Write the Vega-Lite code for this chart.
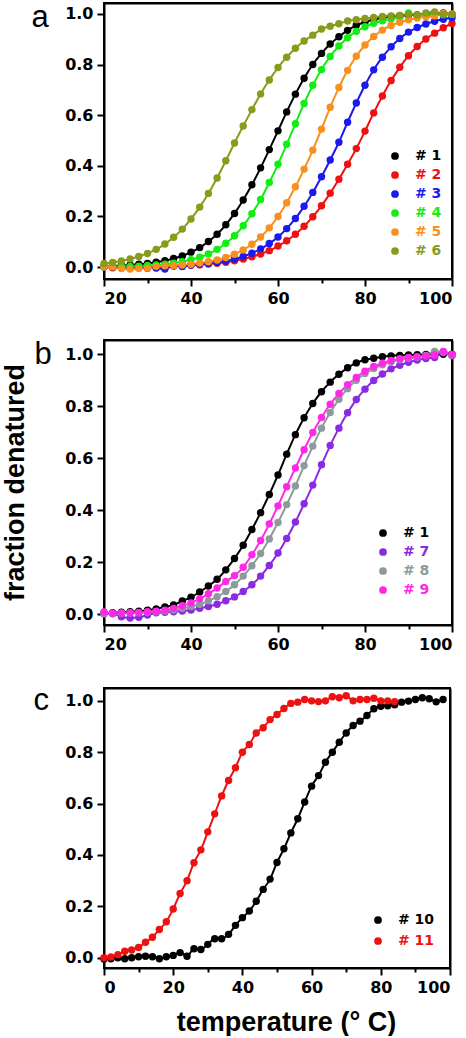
{
"$schema": "https://vega.github.io/schema/vega-lite/v6.json",
"padding": {"left": 0, "top": 0, "right": 0, "bottom": 0},
"spacing": 30,
"background": "white",
"config": {
  "view": {"stroke": "black", "strokeWidth": 2},
  "axis": {"labelFont": "DejaVu Sans", "labelFontSize": 16, "labelFontWeight": "bold", "labelColor": "black", "tickColor": "black", "tickWidth": 2, "tickSize": 7, "domain": true, "domainColor": "black", "domainWidth": 2, "grid": false, "labelPadding": 4, "titleFont": "Liberation Sans", "titleFontSize": 27, "titleFontWeight": "bold", "titleColor": "black"},
  "legend": {"orient": "none", "title": null, "labelFont": "DejaVu Sans", "labelFontSize": 14, "labelFontWeight": "bold", "symbolType": "circle", "symbolSize": 60, "symbolStrokeWidth": 0, "labelOffset": 13, "rowPadding": 5, "padding": 0}
},
"datasets": {
"a": [
{"s":"# 1","T":20,"v":0.003},{"s":"# 1","T":22,"v":0.004},{"s":"# 1","T":24,"v":0.006},{"s":"# 1","T":26,"v":0.008},{"s":"# 1","T":28,"v":0.011},{"s":"# 1","T":30,"v":0.014},{"s":"# 1","T":32,"v":0.019},{"s":"# 1","T":34,"v":0.025},{"s":"# 1","T":36,"v":0.034},{"s":"# 1","T":38,"v":0.044},{"s":"# 1","T":40,"v":0.059},{"s":"# 1","T":42,"v":0.077},{"s":"# 1","T":44,"v":0.101},{"s":"# 1","T":46,"v":0.13},{"s":"# 1","T":48,"v":0.167},{"s":"# 1","T":50,"v":0.212},{"s":"# 1","T":52,"v":0.265},{"s":"# 1","T":54,"v":0.325},{"s":"# 1","T":56,"v":0.392},{"s":"# 1","T":58,"v":0.464},{"s":"# 1","T":60,"v":0.538},{"s":"# 1","T":62,"v":0.613},{"s":"# 1","T":64,"v":0.683},{"s":"# 1","T":66,"v":0.746},{"s":"# 1","T":68,"v":0.8},{"s":"# 1","T":70,"v":0.844},{"s":"# 1","T":72,"v":0.881},{"s":"# 1","T":74,"v":0.91},{"s":"# 1","T":76,"v":0.935},{"s":"# 1","T":78,"v":0.955},{"s":"# 1","T":80,"v":0.968},{"s":"# 1","T":82,"v":0.978},{"s":"# 1","T":84,"v":0.985},{"s":"# 1","T":86,"v":0.99},{"s":"# 1","T":88,"v":0.993},{"s":"# 1","T":90,"v":0.995},{"s":"# 1","T":92,"v":0.996},{"s":"# 1","T":94,"v":0.997},{"s":"# 1","T":96,"v":0.998},{"s":"# 1","T":98,"v":1.004},{"s":"# 1","T":100,"v":0.999},
{"s":"# 2","T":20,"v":0.001},{"s":"# 2","T":22,"v":-0.003},{"s":"# 2","T":24,"v":0.001},{"s":"# 2","T":26,"v":-0.004},{"s":"# 2","T":28,"v":0.002},{"s":"# 2","T":30,"v":-0.005},{"s":"# 2","T":32,"v":0.003},{"s":"# 2","T":34,"v":-0.002},{"s":"# 2","T":36,"v":0.004},{"s":"# 2","T":38,"v":0.002},{"s":"# 2","T":40,"v":0.007},{"s":"# 2","T":42,"v":0.009},{"s":"# 2","T":44,"v":0.012},{"s":"# 2","T":46,"v":0.015},{"s":"# 2","T":48,"v":0.019},{"s":"# 2","T":50,"v":0.025},{"s":"# 2","T":52,"v":0.032},{"s":"# 2","T":54,"v":0.041},{"s":"# 2","T":56,"v":0.052},{"s":"# 2","T":58,"v":0.065},{"s":"# 2","T":60,"v":0.083},{"s":"# 2","T":62,"v":0.104},{"s":"# 2","T":64,"v":0.13},{"s":"# 2","T":66,"v":0.161},{"s":"# 2","T":68,"v":0.199},{"s":"# 2","T":70,"v":0.242},{"s":"# 2","T":72,"v":0.292},{"s":"# 2","T":74,"v":0.347},{"s":"# 2","T":76,"v":0.406},{"s":"# 2","T":78,"v":0.468},{"s":"# 2","T":80,"v":0.537},{"s":"# 2","T":82,"v":0.609},{"s":"# 2","T":84,"v":0.676},{"s":"# 2","T":86,"v":0.737},{"s":"# 2","T":88,"v":0.789},{"s":"# 2","T":90,"v":0.835},{"s":"# 2","T":92,"v":0.871},{"s":"# 2","T":94,"v":0.901},{"s":"# 2","T":96,"v":0.924},{"s":"# 2","T":98,"v":0.945},{"s":"# 2","T":100,"v":0.962},
{"s":"# 3","T":20,"v":0.0},{"s":"# 3","T":22,"v":0.001},{"s":"# 3","T":24,"v":-0.002},{"s":"# 3","T":26,"v":0.001},{"s":"# 3","T":28,"v":-0.003},{"s":"# 3","T":30,"v":0.002},{"s":"# 3","T":32,"v":-0.004},{"s":"# 3","T":34,"v":-0.008},{"s":"# 3","T":36,"v":0.005},{"s":"# 3","T":38,"v":0.003},{"s":"# 3","T":40,"v":0.008},{"s":"# 3","T":42,"v":0.011},{"s":"# 3","T":44,"v":0.014},{"s":"# 3","T":46,"v":0.019},{"s":"# 3","T":48,"v":0.024},{"s":"# 3","T":50,"v":0.032},{"s":"# 3","T":52,"v":0.042},{"s":"# 3","T":54,"v":0.055},{"s":"# 3","T":56,"v":0.072},{"s":"# 3","T":58,"v":0.093},{"s":"# 3","T":60,"v":0.119},{"s":"# 3","T":62,"v":0.152},{"s":"# 3","T":64,"v":0.192},{"s":"# 3","T":66,"v":0.24},{"s":"# 3","T":68,"v":0.295},{"s":"# 3","T":70,"v":0.357},{"s":"# 3","T":72,"v":0.423},{"s":"# 3","T":74,"v":0.493},{"s":"# 3","T":76,"v":0.572},{"s":"# 3","T":78,"v":0.648},{"s":"# 3","T":80,"v":0.718},{"s":"# 3","T":82,"v":0.779},{"s":"# 3","T":84,"v":0.829},{"s":"# 3","T":86,"v":0.87},{"s":"# 3","T":88,"v":0.903},{"s":"# 3","T":90,"v":0.928},{"s":"# 3","T":92,"v":0.946},{"s":"# 3","T":94,"v":0.96},{"s":"# 3","T":96,"v":0.971},{"s":"# 3","T":98,"v":0.979},{"s":"# 3","T":100,"v":0.985},
{"s":"# 4","T":20,"v":0.001},{"s":"# 4","T":22,"v":0.002},{"s":"# 4","T":24,"v":0.002},{"s":"# 4","T":26,"v":0.003},{"s":"# 4","T":28,"v":0.004},{"s":"# 4","T":30,"v":0.006},{"s":"# 4","T":32,"v":0.008},{"s":"# 4","T":34,"v":0.011},{"s":"# 4","T":36,"v":0.015},{"s":"# 4","T":38,"v":0.021},{"s":"# 4","T":40,"v":0.029},{"s":"# 4","T":42,"v":0.039},{"s":"# 4","T":44,"v":0.052},{"s":"# 4","T":46,"v":0.07},{"s":"# 4","T":48,"v":0.094},{"s":"# 4","T":50,"v":0.124},{"s":"# 4","T":52,"v":0.163},{"s":"# 4","T":54,"v":0.211},{"s":"# 4","T":56,"v":0.267},{"s":"# 4","T":58,"v":0.334},{"s":"# 4","T":60,"v":0.406},{"s":"# 4","T":62,"v":0.485},{"s":"# 4","T":64,"v":0.566},{"s":"# 4","T":66,"v":0.646},{"s":"# 4","T":68,"v":0.718},{"s":"# 4","T":70,"v":0.78},{"s":"# 4","T":72,"v":0.832},{"s":"# 4","T":74,"v":0.873},{"s":"# 4","T":76,"v":0.906},{"s":"# 4","T":78,"v":0.931},{"s":"# 4","T":80,"v":0.949},{"s":"# 4","T":82,"v":0.963},{"s":"# 4","T":84,"v":0.973},{"s":"# 4","T":86,"v":0.981},{"s":"# 4","T":88,"v":0.986},{"s":"# 4","T":90,"v":1.004},{"s":"# 4","T":92,"v":0.993},{"s":"# 4","T":94,"v":0.995},{"s":"# 4","T":96,"v":0.996},{"s":"# 4","T":98,"v":0.997},{"s":"# 4","T":100,"v":0.998},
{"s":"# 5","T":20,"v":0.001},{"s":"# 5","T":22,"v":0.001},{"s":"# 5","T":24,"v":-0.006},{"s":"# 5","T":26,"v":-0.008},{"s":"# 5","T":28,"v":-0.006},{"s":"# 5","T":30,"v":-0.004},{"s":"# 5","T":32,"v":0.003},{"s":"# 5","T":34,"v":0.005},{"s":"# 5","T":36,"v":0.006},{"s":"# 5","T":38,"v":0.008},{"s":"# 5","T":40,"v":0.011},{"s":"# 5","T":42,"v":0.016},{"s":"# 5","T":44,"v":0.021},{"s":"# 5","T":46,"v":0.028},{"s":"# 5","T":48,"v":0.038},{"s":"# 5","T":50,"v":0.051},{"s":"# 5","T":52,"v":0.068},{"s":"# 5","T":54,"v":0.09},{"s":"# 5","T":56,"v":0.119},{"s":"# 5","T":58,"v":0.155},{"s":"# 5","T":60,"v":0.2},{"s":"# 5","T":62,"v":0.254},{"s":"# 5","T":64,"v":0.317},{"s":"# 5","T":66,"v":0.387},{"s":"# 5","T":68,"v":0.462},{"s":"# 5","T":70,"v":0.545},{"s":"# 5","T":72,"v":0.631},{"s":"# 5","T":74,"v":0.709},{"s":"# 5","T":76,"v":0.777},{"s":"# 5","T":78,"v":0.833},{"s":"# 5","T":80,"v":0.877},{"s":"# 5","T":82,"v":0.911},{"s":"# 5","T":84,"v":0.936},{"s":"# 5","T":86,"v":0.954},{"s":"# 5","T":88,"v":0.967},{"s":"# 5","T":90,"v":0.977},{"s":"# 5","T":92,"v":0.984},{"s":"# 5","T":94,"v":0.989},{"s":"# 5","T":96,"v":0.992},{"s":"# 5","T":98,"v":1.003},{"s":"# 5","T":100,"v":1.0},
{"s":"# 6","T":20,"v":0.014},{"s":"# 6","T":22,"v":0.018},{"s":"# 6","T":24,"v":0.024},{"s":"# 6","T":26,"v":0.032},{"s":"# 6","T":28,"v":0.042},{"s":"# 6","T":30,"v":0.054},{"s":"# 6","T":32,"v":0.07},{"s":"# 6","T":34,"v":0.091},{"s":"# 6","T":36,"v":0.118},{"s":"# 6","T":38,"v":0.15},{"s":"# 6","T":40,"v":0.19},{"s":"# 6","T":42,"v":0.237},{"s":"# 6","T":44,"v":0.291},{"s":"# 6","T":46,"v":0.352},{"s":"# 6","T":48,"v":0.42},{"s":"# 6","T":50,"v":0.49},{"s":"# 6","T":52,"v":0.557},{"s":"# 6","T":54,"v":0.622},{"s":"# 6","T":56,"v":0.684},{"s":"# 6","T":58,"v":0.739},{"s":"# 6","T":60,"v":0.788},{"s":"# 6","T":62,"v":0.829},{"s":"# 6","T":64,"v":0.864},{"s":"# 6","T":66,"v":0.893},{"s":"# 6","T":68,"v":0.916},{"s":"# 6","T":70,"v":0.94},{"s":"# 6","T":72,"v":0.951},{"s":"# 6","T":74,"v":0.961},{"s":"# 6","T":76,"v":0.972},{"s":"# 6","T":78,"v":0.977},{"s":"# 6","T":80,"v":0.982},{"s":"# 6","T":82,"v":0.986},{"s":"# 6","T":84,"v":0.99},{"s":"# 6","T":86,"v":0.992},{"s":"# 6","T":88,"v":0.994},{"s":"# 6","T":90,"v":0.998},{"s":"# 6","T":92,"v":0.996},{"s":"# 6","T":94,"v":1.004},{"s":"# 6","T":96,"v":1.008},{"s":"# 6","T":98,"v":0.998},{"s":"# 6","T":100,"v":0.999}
],
"b": [
{"s":"# 1","T":20,"v":0.004},{"s":"# 1","T":22,"v":0.005},{"s":"# 1","T":24,"v":0.007},{"s":"# 1","T":26,"v":0.009},{"s":"# 1","T":28,"v":0.011},{"s":"# 1","T":30,"v":0.015},{"s":"# 1","T":32,"v":0.02},{"s":"# 1","T":34,"v":0.027},{"s":"# 1","T":36,"v":0.035},{"s":"# 1","T":38,"v":0.05},{"s":"# 1","T":40,"v":0.065},{"s":"# 1","T":42,"v":0.085},{"s":"# 1","T":44,"v":0.108},{"s":"# 1","T":46,"v":0.134},{"s":"# 1","T":48,"v":0.17},{"s":"# 1","T":50,"v":0.214},{"s":"# 1","T":52,"v":0.265},{"s":"# 1","T":54,"v":0.325},{"s":"# 1","T":56,"v":0.39},{"s":"# 1","T":58,"v":0.46},{"s":"# 1","T":60,"v":0.535},{"s":"# 1","T":62,"v":0.615},{"s":"# 1","T":64,"v":0.69},{"s":"# 1","T":66,"v":0.755},{"s":"# 1","T":68,"v":0.81},{"s":"# 1","T":70,"v":0.855},{"s":"# 1","T":72,"v":0.892},{"s":"# 1","T":74,"v":0.922},{"s":"# 1","T":76,"v":0.947},{"s":"# 1","T":78,"v":0.966},{"s":"# 1","T":80,"v":0.978},{"s":"# 1","T":82,"v":0.984},{"s":"# 1","T":84,"v":0.99},{"s":"# 1","T":86,"v":0.993},{"s":"# 1","T":88,"v":0.995},{"s":"# 1","T":90,"v":0.996},{"s":"# 1","T":92,"v":0.997},{"s":"# 1","T":94,"v":0.998},{"s":"# 1","T":96,"v":0.998},{"s":"# 1","T":98,"v":0.999},{"s":"# 1","T":100,"v":0.999},
{"s":"# 7","T":20,"v":0.001},{"s":"# 7","T":22,"v":0.001},{"s":"# 7","T":24,"v":-0.01},{"s":"# 7","T":26,"v":-0.015},{"s":"# 7","T":28,"v":-0.012},{"s":"# 7","T":30,"v":-0.004},{"s":"# 7","T":32,"v":0.005},{"s":"# 7","T":34,"v":0.007},{"s":"# 7","T":36,"v":0.009},{"s":"# 7","T":38,"v":0.012},{"s":"# 7","T":40,"v":0.016},{"s":"# 7","T":42,"v":0.022},{"s":"# 7","T":44,"v":0.029},{"s":"# 7","T":46,"v":0.038},{"s":"# 7","T":48,"v":0.051},{"s":"# 7","T":50,"v":0.066},{"s":"# 7","T":52,"v":0.087},{"s":"# 7","T":54,"v":0.113},{"s":"# 7","T":56,"v":0.146},{"s":"# 7","T":58,"v":0.187},{"s":"# 7","T":60,"v":0.235},{"s":"# 7","T":62,"v":0.291},{"s":"# 7","T":64,"v":0.354},{"s":"# 7","T":66,"v":0.424},{"s":"# 7","T":68,"v":0.496},{"s":"# 7","T":70,"v":0.574},{"s":"# 7","T":72,"v":0.648},{"s":"# 7","T":74,"v":0.715},{"s":"# 7","T":76,"v":0.774},{"s":"# 7","T":78,"v":0.825},{"s":"# 7","T":80,"v":0.865},{"s":"# 7","T":82,"v":0.898},{"s":"# 7","T":84,"v":0.923},{"s":"# 7","T":86,"v":0.943},{"s":"# 7","T":88,"v":0.957},{"s":"# 7","T":90,"v":0.968},{"s":"# 7","T":92,"v":0.977},{"s":"# 7","T":94,"v":0.983},{"s":"# 7","T":96,"v":0.987},{"s":"# 7","T":98,"v":1.005},{"s":"# 7","T":100,"v":0.993},
{"s":"# 8","T":20,"v":0.002},{"s":"# 8","T":22,"v":0.002},{"s":"# 8","T":24,"v":0.003},{"s":"# 8","T":26,"v":0.004},{"s":"# 8","T":28,"v":0.005},{"s":"# 8","T":30,"v":0.007},{"s":"# 8","T":32,"v":0.009},{"s":"# 8","T":34,"v":0.012},{"s":"# 8","T":36,"v":0.016},{"s":"# 8","T":38,"v":0.022},{"s":"# 8","T":40,"v":0.029},{"s":"# 8","T":42,"v":0.038},{"s":"# 8","T":44,"v":0.051},{"s":"# 8","T":46,"v":0.067},{"s":"# 8","T":48,"v":0.087},{"s":"# 8","T":50,"v":0.113},{"s":"# 8","T":52,"v":0.146},{"s":"# 8","T":54,"v":0.186},{"s":"# 8","T":56,"v":0.233},{"s":"# 8","T":58,"v":0.289},{"s":"# 8","T":60,"v":0.352},{"s":"# 8","T":62,"v":0.421},{"s":"# 8","T":64,"v":0.493},{"s":"# 8","T":66,"v":0.571},{"s":"# 8","T":68,"v":0.646},{"s":"# 8","T":70,"v":0.715},{"s":"# 8","T":72,"v":0.775},{"s":"# 8","T":74,"v":0.826},{"s":"# 8","T":76,"v":0.867},{"s":"# 8","T":78,"v":0.899},{"s":"# 8","T":80,"v":0.925},{"s":"# 8","T":82,"v":0.944},{"s":"# 8","T":84,"v":0.959},{"s":"# 8","T":86,"v":0.97},{"s":"# 8","T":88,"v":0.978},{"s":"# 8","T":90,"v":0.984},{"s":"# 8","T":92,"v":0.988},{"s":"# 8","T":94,"v":0.995},{"s":"# 8","T":96,"v":1.01},{"s":"# 8","T":98,"v":1.008},{"s":"# 8","T":100,"v":0.995},
{"s":"# 9","T":20,"v":0.008},{"s":"# 9","T":22,"v":0.003},{"s":"# 9","T":24,"v":0.004},{"s":"# 9","T":26,"v":0.005},{"s":"# 9","T":28,"v":0.006},{"s":"# 9","T":30,"v":0.009},{"s":"# 9","T":32,"v":0.011},{"s":"# 9","T":34,"v":0.015},{"s":"# 9","T":36,"v":0.022},{"s":"# 9","T":38,"v":0.032},{"s":"# 9","T":40,"v":0.043},{"s":"# 9","T":42,"v":0.059},{"s":"# 9","T":44,"v":0.078},{"s":"# 9","T":46,"v":0.1},{"s":"# 9","T":48,"v":0.125},{"s":"# 9","T":50,"v":0.148},{"s":"# 9","T":52,"v":0.18},{"s":"# 9","T":54,"v":0.228},{"s":"# 9","T":56,"v":0.283},{"s":"# 9","T":58,"v":0.347},{"s":"# 9","T":60,"v":0.416},{"s":"# 9","T":62,"v":0.49},{"s":"# 9","T":64,"v":0.562},{"s":"# 9","T":66,"v":0.632},{"s":"# 9","T":68,"v":0.698},{"s":"# 9","T":70,"v":0.756},{"s":"# 9","T":72,"v":0.807},{"s":"# 9","T":74,"v":0.848},{"s":"# 9","T":76,"v":0.882},{"s":"# 9","T":78,"v":0.91},{"s":"# 9","T":80,"v":0.934},{"s":"# 9","T":82,"v":0.952},{"s":"# 9","T":84,"v":0.965},{"s":"# 9","T":86,"v":0.975},{"s":"# 9","T":88,"v":0.982},{"s":"# 9","T":90,"v":0.987},{"s":"# 9","T":92,"v":0.99},{"s":"# 9","T":94,"v":0.993},{"s":"# 9","T":96,"v":0.996},{"s":"# 9","T":98,"v":1.01},{"s":"# 9","T":100,"v":0.998}
],
"c": [
{"s":"# 10","T":0,"v":-0.005},{"s":"# 10","T":2,"v":-0.004},{"s":"# 10","T":4,"v":0.0},{"s":"# 10","T":6,"v":-0.004},{"s":"# 10","T":8,"v":0.0},{"s":"# 10","T":10,"v":0.004},{"s":"# 10","T":12,"v":0.006},{"s":"# 10","T":14,"v":0.004},{"s":"# 10","T":16,"v":-0.004},{"s":"# 10","T":18,"v":0.004},{"s":"# 10","T":20,"v":0.009},{"s":"# 10","T":22,"v":0.02},{"s":"# 10","T":24,"v":0.006},{"s":"# 10","T":26,"v":0.035},{"s":"# 10","T":28,"v":0.032},{"s":"# 10","T":30,"v":0.052},{"s":"# 10","T":32,"v":0.074},{"s":"# 10","T":34,"v":0.074},{"s":"# 10","T":36,"v":0.091},{"s":"# 10","T":38,"v":0.126},{"s":"# 10","T":40,"v":0.156},{"s":"# 10","T":42,"v":0.182},{"s":"# 10","T":44,"v":0.22},{"s":"# 10","T":46,"v":0.266},{"s":"# 10","T":48,"v":0.306},{"s":"# 10","T":50,"v":0.371},{"s":"# 10","T":52,"v":0.424},{"s":"# 10","T":54,"v":0.486},{"s":"# 10","T":56,"v":0.541},{"s":"# 10","T":58,"v":0.606},{"s":"# 10","T":60,"v":0.668},{"s":"# 10","T":62,"v":0.709},{"s":"# 10","T":64,"v":0.761},{"s":"# 10","T":66,"v":0.8},{"s":"# 10","T":68,"v":0.839},{"s":"# 10","T":70,"v":0.875},{"s":"# 10","T":72,"v":0.904},{"s":"# 10","T":74,"v":0.921},{"s":"# 10","T":76,"v":0.943},{"s":"# 10","T":78,"v":0.969},{"s":"# 10","T":80,"v":0.979},{"s":"# 10","T":82,"v":0.981},{"s":"# 10","T":84,"v":0.985},{"s":"# 10","T":86,"v":0.995},{"s":"# 10","T":88,"v":0.999},{"s":"# 10","T":90,"v":1.005},{"s":"# 10","T":92,"v":1.012},{"s":"# 10","T":94,"v":1.008},{"s":"# 10","T":96,"v":0.996},{"s":"# 10","T":98,"v":1.005},
{"s":"# 11","T":0,"v":0.0},{"s":"# 11","T":2,"v":0.003},{"s":"# 11","T":4,"v":0.012},{"s":"# 11","T":6,"v":0.025},{"s":"# 11","T":8,"v":0.03},{"s":"# 11","T":10,"v":0.04},{"s":"# 11","T":12,"v":0.06},{"s":"# 11","T":14,"v":0.08},{"s":"# 11","T":16,"v":0.11},{"s":"# 11","T":18,"v":0.14},{"s":"# 11","T":20,"v":0.19},{"s":"# 11","T":22,"v":0.25},{"s":"# 11","T":24,"v":0.3},{"s":"# 11","T":26,"v":0.37},{"s":"# 11","T":28,"v":0.42},{"s":"# 11","T":30,"v":0.49},{"s":"# 11","T":32,"v":0.56},{"s":"# 11","T":34,"v":0.63},{"s":"# 11","T":36,"v":0.69},{"s":"# 11","T":38,"v":0.74},{"s":"# 11","T":40,"v":0.8},{"s":"# 11","T":42,"v":0.83},{"s":"# 11","T":44,"v":0.875},{"s":"# 11","T":46,"v":0.895},{"s":"# 11","T":48,"v":0.927},{"s":"# 11","T":50,"v":0.947},{"s":"# 11","T":52,"v":0.97},{"s":"# 11","T":54,"v":0.99},{"s":"# 11","T":56,"v":0.995},{"s":"# 11","T":58,"v":1.005},{"s":"# 11","T":60,"v":1.0},{"s":"# 11","T":62,"v":0.997},{"s":"# 11","T":64,"v":1.0},{"s":"# 11","T":66,"v":1.016},{"s":"# 11","T":68,"v":1.012},{"s":"# 11","T":70,"v":1.02},{"s":"# 11","T":72,"v":1.0},{"s":"# 11","T":74,"v":1.005},{"s":"# 11","T":76,"v":1.005},{"s":"# 11","T":78,"v":1.01},{"s":"# 11","T":80,"v":1.0},{"s":"# 11","T":82,"v":1.0},{"s":"# 11","T":84,"v":0.997}
]
},
"vconcat": [
{
  "width": 348, "height": 276,
  "data": {"name": "a"},
  "encoding": {
    "color": {"field": "s", "type": "nominal", "scale": {"domain": ["# 1", "# 2", "# 3", "# 4", "# 5", "# 6"], "range": ["#000000", "#ee1111", "#1a1aee", "#11ee11", "#f7901e", "#8a9a1a"]},
      "legend": {"legendX": 284, "legendY": 146, "labelColor": {"expr": "datum.label == '# 1' ? '#000000' : datum.label == '# 2' ? '#ee1111' : datum.label == '# 3' ? '#1a1aee' : datum.label == '# 4' ? '#11ee11' : datum.label == '# 5' ? '#f7901e' : '#8a9a1a'"}}}
  },
  "layer": [
    {"mark": {"type": "line", "strokeWidth": 2, "interpolate": "monotone"},
     "encoding": {"x": {"field": "T", "type": "quantitative", "scale": {"domain": [20, 100], "nice": false}, "axis": {"orient": "bottom", "values": [20, 40, 60, 80, 100], "title": null}},
       "y": {"field": "v", "type": "quantitative", "scale": {"domain": [-0.047, 1.043], "nice": false, "zero": false}, "axis": {"orient": "left", "values": [0, 0.2, 0.4, 0.6, 0.8, 1], "format": ".1f", "title": null}}}},
    {"mark": {"type": "point", "filled": true, "size": 55, "opacity": 1, "strokeWidth": 0},
     "encoding": {"x": {"field": "T", "type": "quantitative", "axis": {"orient": "bottom", "values": [30, 50, 70, 90], "labels": false, "domain": false, "tickSize": 4, "title": "a", "titleX": -73, "titleY": -253, "titleAngle": 0, "titleAlign": "left", "titleBaseline": "alphabetic", "titleFontSize": 31, "titleFontWeight": "normal", "titleFont": "Liberation Sans"}},
       "y": {"field": "v", "type": "quantitative", "axis": null}}},
    {"transform": [{"filter": "false"}],
     "mark": {"type": "point"},
     "encoding": {"x": {"field": "T", "type": "quantitative", "axis": {"orient": "top", "labels": false, "ticks": false, "title": null}},
       "y": {"field": "v", "type": "quantitative", "axis": {"orient": "right", "labels": false, "ticks": false, "title": null}}}}
  ],
  "resolve": {"axis": {"x": "independent", "y": "independent"}}
},
{
  "width": 348, "height": 285,
  "data": {"name": "b"},
  "encoding": {
    "color": {"field": "s", "type": "nominal", "scale": {"domain": ["# 1", "# 7", "# 8", "# 9"], "range": ["#000000", "#8a2be2", "#8c9a9c", "#ff28e6"]},
      "legend": {"legendX": 272, "legendY": 186, "labelColor": {"expr": "datum.label == '# 1' ? '#000000' : datum.label == '# 7' ? '#8a2be2' : datum.label == '# 8' ? '#8c9a9c' : '#ff28e6'"}}}
  },
  "layer": [
    {"mark": {"type": "line", "strokeWidth": 2, "interpolate": "monotone"},
     "encoding": {"x": {"field": "T", "type": "quantitative", "scale": {"domain": [20, 100], "nice": false}, "axis": {"orient": "bottom", "values": [20, 40, 60, 80, 100], "title": null}},
       "y": {"field": "v", "type": "quantitative", "scale": {"domain": [-0.042, 1.054], "nice": false, "zero": false}, "axis": {"orient": "left", "values": [0, 0.2, 0.4, 0.6, 0.8, 1], "format": ".1f", "title": "fraction denatured", "titlePadding": 35, "titleY": 142}}}},
    {"mark": {"type": "point", "filled": true, "size": 55, "opacity": 1, "strokeWidth": 0},
     "encoding": {"x": {"field": "T", "type": "quantitative", "axis": {"orient": "bottom", "values": [30, 50, 70, 90], "labels": false, "domain": false, "tickSize": 4, "title": "b", "titleX": -70, "titleY": -262, "titleAngle": 0, "titleAlign": "left", "titleBaseline": "alphabetic", "titleFontSize": 31, "titleFontWeight": "normal", "titleFont": "Liberation Sans"}},
       "y": {"field": "v", "type": "quantitative", "axis": null}}},
    {"transform": [{"filter": "false"}],
     "mark": {"type": "point"},
     "encoding": {"x": {"field": "T", "type": "quantitative", "axis": {"orient": "top", "labels": false, "ticks": false, "title": null}},
       "y": {"field": "v", "type": "quantitative", "axis": {"orient": "right", "labels": false, "ticks": false, "title": null}}}}
  ],
  "resolve": {"axis": {"x": "independent", "y": "independent"}}
},
{
  "width": 346, "height": 280,
  "data": {"name": "c"},
  "encoding": {
    "color": {"field": "s", "type": "nominal", "scale": {"domain": ["# 10", "# 11"], "range": ["#000000", "#ee1111"]},
      "legend": {"legendX": 267, "legendY": 225, "rowPadding": 7, "labelColor": {"expr": "datum.label == '# 10' ? '#000000' : '#ee1111'"}}}
  },
  "layer": [
    {"mark": {"type": "line", "strokeWidth": 2, "interpolate": "monotone"},
     "encoding": {"x": {"field": "T", "type": "quantitative", "scale": {"domain": [0, 100], "nice": false}, "axis": {"orient": "bottom", "values": [0, 20, 40, 60, 80, 100], "title": "temperature (° C)", "titlePadding": 14, "titleX": 182}},
       "y": {"field": "v", "type": "quantitative", "scale": {"domain": [-0.04, 1.05], "nice": false, "zero": false}, "axis": {"orient": "left", "values": [0, 0.2, 0.4, 0.6, 0.8, 1], "format": ".1f", "title": null}}}},
    {"mark": {"type": "point", "filled": true, "size": 55, "opacity": 1, "strokeWidth": 0},
     "encoding": {"x": {"field": "T", "type": "quantitative", "axis": {"orient": "bottom", "values": [10, 30, 50, 70, 90], "labels": false, "domain": false, "tickSize": 4, "title": "c", "titleX": -71, "titleY": -259, "titleAngle": 0, "titleAlign": "left", "titleBaseline": "alphabetic", "titleFontSize": 31, "titleFontWeight": "normal", "titleFont": "Liberation Sans"}},
       "y": {"field": "v", "type": "quantitative", "axis": null}}},
    {"transform": [{"filter": "false"}],
     "mark": {"type": "point"},
     "encoding": {"x": {"field": "T", "type": "quantitative", "axis": {"orient": "top", "labels": false, "ticks": false, "title": null}},
       "y": {"field": "v", "type": "quantitative", "axis": {"orient": "right", "labels": false, "ticks": false, "title": null}}}}
  ],
  "resolve": {"axis": {"x": "independent", "y": "independent"}}
}
],
"resolve": {"scale": {"color": "independent"}, "legend": {"color": "independent"}}
}
